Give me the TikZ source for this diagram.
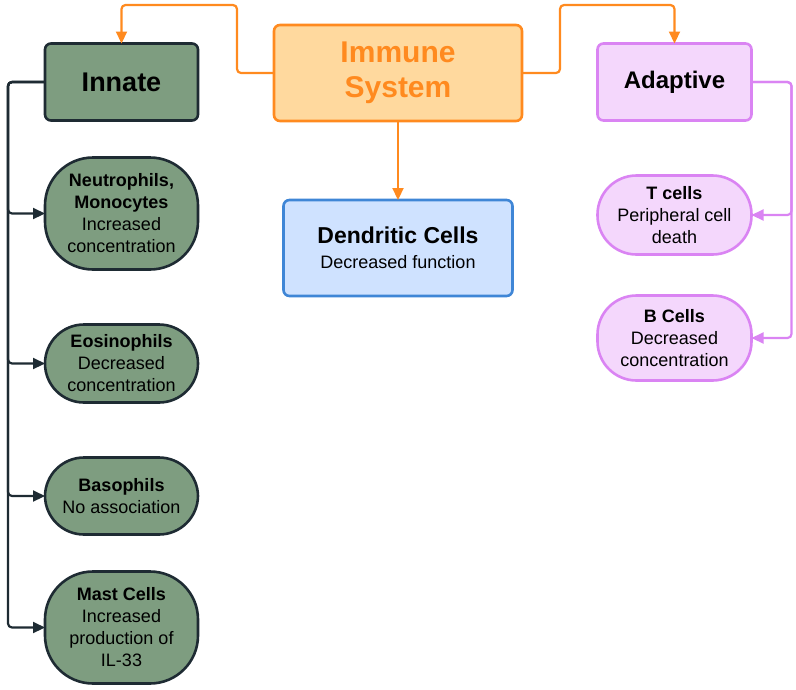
\documentclass[tikz,border=0pt]{standalone}
\usepackage{fontspec}
\setmainfont{Liberation Sans}
\usepackage{tikz}
\usetikzlibrary{arrows.meta,positioning}
\definecolor{imorange}{HTML}{FF8A1F}
\definecolor{imlight}{HTML}{FFD99E}
\definecolor{ingreen}{HTML}{7E9D80}
\definecolor{indark}{HTML}{1E2B33}
\definecolor{adpurple}{HTML}{DA84F3}
\definecolor{adlight}{HTML}{F4D7FC}
\definecolor{dcblue}{HTML}{3F86D6}
\definecolor{dclight}{HTML}{CFE2FF}

\begin{document}
\begin{tikzpicture}[x=1pt, y=-1pt,
  font=\fontsize{18}{22}\selectfont,
  box/.style={rectangle, line width=2.6pt, rounded corners=6pt, align=center,
    inner sep=2pt, outer sep=0pt},
  innbox/.style={box, draw=indark, fill=ingreen, minimum width=153pt},
  adpbox/.style={box, draw=adpurple, fill=adlight, minimum width=154pt},
  pill/.style={rounded corners=39pt},
  tallpill/.style={rounded corners=48pt},
  orarr/.style={-{Triangle[length=12pt,width=11pt]}, line width=2.2pt, imorange, rounded corners=4pt},
  inarr/.style={-{Triangle[length=12pt,width=11pt]}, line width=2.2pt, indark, rounded corners=4pt},
  adarr/.style={-{Triangle[length=12pt,width=11pt]}, line width=2.2pt, adpurple, rounded corners=4pt},
]
\useasboundingbox (0,0) rectangle (796,689);

% top row
\node[box, draw=imorange, fill=imlight, text=imorange, minimum width=248pt, minimum height=96pt,
  font=\fontsize{30}{35}\selectfont\bfseries] (immune) at (398,73) {Immune\\System};
\node[innbox, minimum height=77pt, font=\fontsize{27}{30}\selectfont\bfseries] (innate) at (121.5,82) {Innate};
\node[adpbox, minimum height=77pt, font=\fontsize{24}{28}\selectfont\bfseries] (adaptive) at (674.5,82) {Adaptive};
\node[box, draw=dcblue, fill=dclight, minimum width=229pt, minimum height=96pt,
  below=79pt of immune] (dendritic) {{\fontsize{23}{28}\selectfont\bfseries Dendritic Cells}\\[3pt]Decreased function};

% innate cells
\node[innbox, tallpill, minimum height=112pt, below=37pt of innate] (neutro)
  {\textbf{Neutrophils,}\\\textbf{Monocytes}\\Increased\\concentration};
\node[innbox, pill, minimum height=78pt, below=55pt of neutro] (eosino)
  {\textbf{Eosinophils}\\Decreased\\concentration};
\node[innbox, pill, minimum height=77pt, below=55pt of eosino] (baso)
  {\textbf{Basophils}\\No association};
\node[innbox, tallpill, minimum height=112pt, below=37pt of baso] (mast)
  {\textbf{Mast Cells}\\Increased\\production of\\IL-33};

% adaptive cells
\node[adpbox, pill, minimum height=79pt, below=55pt of adaptive] (tcell)
  {\textbf{T cells}\\Peripheral cell\\death};
\node[adpbox, pill, minimum height=85pt, below=41pt of tcell] (bcell)
  {\textbf{B Cells}\\Decreased\\concentration};

% connectors
\coordinate (topl) at (237,5);
\coordinate (topr) at (560,5);
\draw[orarr] (immune.west) -| (topl) -| (innate.north);
\draw[orarr] (immune.east) -| (topr) -| (adaptive.north);
\draw[orarr] (immune.south) -- (dendritic.north);
\foreach \c in {neutro,eosino,baso,mast}
  \draw[inarr] (innate.west) -- ++(-37,0) |- (\c.west);
\foreach \c in {tcell,bcell}
  \draw[adarr] (adaptive.east) -- ++(40,0) |- (\c.east);
\end{tikzpicture}
\end{document}
